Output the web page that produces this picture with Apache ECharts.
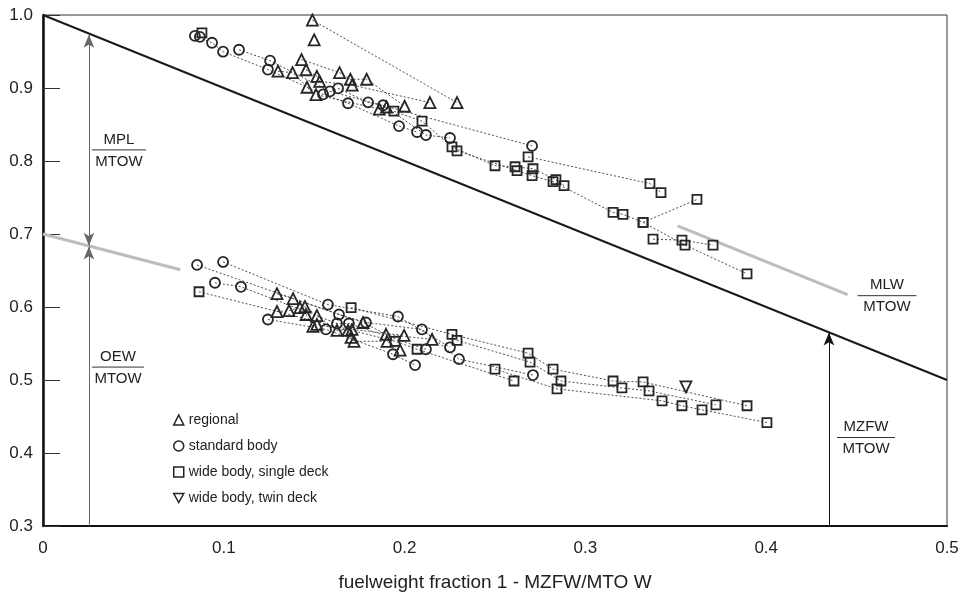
<!DOCTYPE html>
<html><head><meta charset="utf-8">
<script src="https://cdn.jsdelivr.net/npm/echarts/dist/echarts.min.js"></script>
<style>html,body{margin:0;padding:0;background:#fff}#c{width:972px;height:597px}</style>
</head><body><div id="c"></div>
<script>
// ---------- data (x = fuel weight fraction, y = mass ratio) ----------
const xTicks = [0, 0.1, 0.2, 0.3, 0.4, 0.5];
const yTicks = [0.3, 0.4, 0.5, 0.6, 0.7, 0.8, 0.9, 1.0];

// upper cluster: families joined by dotted lines
const regionalUpper = [
  [[0.149,0.993],[0.229,0.880]],
  [[0.150,0.966]],
  [[0.130,0.923],[0.138,0.921],[0.146,0.901],[0.151,0.891],[0.186,0.871],[0.190,0.874]],
  [[0.143,0.939],[0.164,0.921],[0.170,0.912],[0.179,0.912],[0.200,0.875]],
  [[0.1455,0.925],[0.1515,0.916],[0.153,0.909],[0.171,0.904],[0.214,0.880]]
];
const standardUpper = [
  [[0.084,0.9715],[0.0935,0.962],[0.0996,0.9497],[0.1244,0.9253],[0.1549,0.8913],[0.1687,0.8791],[0.1969,0.8478],[0.2069,0.8397]],
  [[0.0868,0.970]],
  [[0.1084,0.9524],[0.1256,0.9375],[0.1587,0.8954],[0.2705,0.8207]],
  [[0.1632,0.8995],[0.1798,0.8804],[0.1881,0.8764],[0.2118,0.8356],[0.2251,0.8315]]
];
const wideUpper = [
  [[0.0879,0.9755]],
  [[0.1941,0.8682],[0.2096,0.8546],[0.2262,0.8193],[0.2500,0.7935],[0.2611,0.7921],[0.2710,0.7894],[0.2837,0.7745],[0.2882,0.7663]],
  [[0.2290,0.8139],[0.2622,0.7867],[0.2705,0.7799],[0.2821,0.7717],[0.3153,0.7296],[0.3208,0.7269],[0.3319,0.7160],[0.3551,0.6848],[0.3894,0.6454]],
  [[0.3319,0.7160],[0.3617,0.7473]],
  [[0.3374,0.6929],[0.3534,0.6916],[0.3706,0.6848]],
  [[0.2683,0.8057],[0.3357,0.7690],[0.3418,0.7568]]
];
// lower cluster (OEW/MTOW)
const regionalLower = [
  [[0.1294,0.6182],[0.1383,0.6114],[0.1770,0.5788],[0.1897,0.5625],[0.2152,0.5557]],
  [[0.1294,0.5938],[0.1361,0.5951],[0.1421,0.5992],[0.1449,0.6005],[0.1515,0.5883],[0.1626,0.5679],[0.1709,0.5693],[0.1997,0.5611]],
  [[0.1455,0.5897],[0.1493,0.5734],[0.1515,0.5761],[0.1687,0.5679],[0.1704,0.5584],[0.1720,0.5530],[0.1903,0.5530],[0.1975,0.5408]]
];
const standardLower = [
  [[0.0996,0.6617],[0.1576,0.6033],[0.1963,0.5870],[0.2251,0.5448]],
  [[0.0852,0.6576],[0.1637,0.5897],[0.1786,0.5788],[0.2096,0.5693],[0.2301,0.5285],[0.2710,0.5068]],
  [[0.0951,0.6332],[0.1095,0.6277],[0.1626,0.5774],[0.1692,0.5774],[0.2118,0.5421]],
  [[0.1244,0.5829],[0.1565,0.5693],[0.1936,0.5353],[0.2058,0.5204]]
];
const wideLower = [
  [[0.0863,0.6209],[0.1947,0.5530],[0.2069,0.5421],[0.2605,0.4986]],
  [[0.1704,0.5992],[0.2262,0.5625],[0.2683,0.5367],[0.2821,0.5149],[0.3153,0.4986],[0.3319,0.4973],[0.3894,0.4647]],
  [[0.2290,0.5543],[0.2694,0.5245],[0.2865,0.4986],[0.3202,0.4891],[0.3352,0.4851],[0.3722,0.4660]],
  [[0.2500,0.5149],[0.2843,0.4878],[0.3424,0.4715],[0.3534,0.4647],[0.3645,0.4592],[0.4004,0.4416]]
];
const twinLower = [
  [[0.3556,0.4905]]
];

// reference lines
const mzfwLimit = [[0, 1.0], [0.5, 0.5]];
const oewGuide = [[0, 0.700], [0.076, 0.651]];
const mlwGuide = [[0.351, 0.711], [0.445, 0.617]];
// arrows: [x, yFrom, yTo]
const mplArrow = [0.0254, 0.684, 0.973];
const oewArrow = [0.0254, 0.3, 0.683];
const mzfwArrow = [0.4347, 0.3, 0.565];

const legendNames = ['regional', 'standard body', 'wide body, single deck', 'wide body, twin deck'];

// ---------- chart ----------
const FONT = '"Liberation Sans", Arial, sans-serif';
const chart = echarts.init(document.getElementById('c'), null, {renderer: 'canvas'});

const hollow = {color: 'rgba(255,255,255,0)', borderColor: '#262626', borderWidth: 1.8};
function fam(name, fams, symbol, rotate, size) {
  return fams.map(f => ({
    type: 'line', name: name, data: f, symbol: symbol, symbolRotate: rotate || 0,
    symbolSize: size || 10, showSymbol: true, showAllSymbol: true, silent: true, z: 4,
    lineStyle: {color: '#222', width: 0.8, type: [2, 2]},
    itemStyle: hollow, emphasis: {disabled: true}
  }));
}

const series = [].concat(
  fam(legendNames[0], regionalUpper, 'triangle', 0, 11),
  fam(legendNames[0], regionalLower, 'triangle', 0, 11),
  fam(legendNames[1], standardUpper, 'circle', 0, 10),
  fam(legendNames[1], standardLower, 'circle', 0, 10),
  fam(legendNames[2], wideUpper, 'rect', 0, 9),
  fam(legendNames[2], wideLower, 'rect', 0, 9),
  fam(legendNames[3], twinLower, 'triangle', 180, 11),
  [{
    type: 'line', data: mzfwLimit, symbol: 'none', silent: true, z: 3,
    lineStyle: {color: '#1a1a1a', width: 2},
    markLine: {
      silent: true, animation: false, symbolSize: [8, 13], label: {show: false},
      lineStyle: {color: '#111', width: 1, type: 'solid'},
      data: [[{coord: [mzfwArrow[0], mzfwArrow[1]], symbol: 'none'}, {coord: [mzfwArrow[0], mzfwArrow[2]], symbol: 'arrow'}]]
    }
  }, {
    type: 'line', data: oewGuide, symbol: 'none', silent: true, z: 2,
    lineStyle: {color: '#bdbdbd', width: 3},
    markLine: {
      silent: true, animation: false, symbolSize: [8, 13], label: {show: false},
      lineStyle: {color: '#666', width: 1, type: 'solid'},
      data: [
        [{coord: [oewArrow[0], oewArrow[1]], symbol: 'none'}, {coord: [oewArrow[0], oewArrow[2]], symbol: 'arrow'}],
        [{coord: [mplArrow[0], mplArrow[1]], symbol: 'arrow'}, {coord: [mplArrow[0], mplArrow[2]], symbol: 'arrow'}]
      ]
    }
  }, {
    type: 'line', data: mlwGuide, symbol: 'none', silent: true, z: 2,
    lineStyle: {color: '#bdbdbd', width: 3}
  }]
);

const fmt = v => (Math.abs(v) < 1e-9 ? '0' : v.toFixed(1));

chart.setOption({
  animation: false,
  backgroundColor: '#fff',
  textStyle: {fontFamily: FONT},
  grid: {left: 43, right: 25, top: 15, bottom: 67, show: true, borderColor: '#333', borderWidth: 1},
  xAxis: {
    type: 'value', min: xTicks[0], max: xTicks[xTicks.length - 1], interval: 0.1,
    axisLine: {show: true, onZero: false, lineStyle: {color: '#111', width: 2}},
    axisTick: {show: false}, splitLine: {show: false},
    axisLabel: {formatter: fmt, fontSize: 17, color: '#222', margin: 14, fontFamily: FONT, showMinLabel: true, showMaxLabel: true},
    name: 'fuelweight fraction 1 - MZFW/MTO W', nameLocation: 'middle', nameGap: 47,
    nameTextStyle: {fontSize: 19, color: '#222', fontFamily: FONT}
  },
  yAxis: {
    type: 'value', min: yTicks[0], max: yTicks[yTicks.length - 1], interval: 0.1,
    axisLine: {show: true, onZero: false, lineStyle: {color: '#111', width: 2.5}},
    axisTick: {show: true, inside: true, length: 17, lineStyle: {color: '#333', width: 1}},
    splitLine: {show: false},
    axisLabel: {formatter: fmt, fontSize: 17, color: '#222', margin: 10, fontFamily: FONT, showMinLabel: true, showMaxLabel: true}
  },
  legend: {
    orient: 'vertical', left: 168, top: 407, itemGap: 10, itemWidth: 10, itemHeight: 10,
    selectedMode: false,
    textStyle: {fontSize: 14, color: '#222', fontFamily: FONT, lineHeight: 16},
    itemStyle: {color: 'rgba(255,255,255,0)', borderColor: '#222', borderWidth: 1.5},
    data: [
      {name: legendNames[0], icon: 'triangle'},
      {name: legendNames[1], icon: 'circle'},
      {name: legendNames[2], icon: 'rect'},
      {name: legendNames[3], icon: 'path://M0,0L10,0L5,9Z'}
    ]
  },
  series: series
});

// fraction labels anchored in data coordinates
const fractions = [
  {num: 'MPL', den: 'MTOW', at: [0.042, 0.8152], w: 54},
  {num: 'OEW', den: 'MTOW', at: [0.0415, 0.5177], w: 52},
  {num: 'MLW', den: 'MTOW', at: [0.4668, 0.6155], w: 59},
  {num: 'MZFW', den: 'MTOW', at: [0.4552, 0.4212], w: 58}
];
const g = [];
fractions.forEach(f => {
  const p = chart.convertToPixel({gridIndex: 0}, f.at);
  g.push({type: 'text', x: p[0], y: p[1] - 3, z: 10, style: {text: f.num, fontSize: 15, fontFamily: FONT, fill: '#222', align: 'center', verticalAlign: 'bottom'}});
  g.push({type: 'line', z: 10, shape: {x1: p[0] - f.w / 2, y1: p[1], x2: p[0] + f.w / 2, y2: p[1]}, style: {stroke: '#333', lineWidth: 1}});
  g.push({type: 'text', x: p[0], y: p[1] + 4, z: 10, style: {text: f.den, fontSize: 15, fontFamily: FONT, fill: '#222', align: 'center', verticalAlign: 'top'}});
});
chart.setOption({graphic: g});
</script></body></html>
